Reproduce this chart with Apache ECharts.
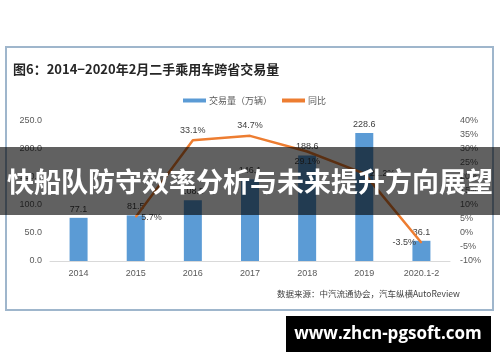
<!DOCTYPE html>
<html><head><meta charset="utf-8">
<script src="https://cdn.jsdelivr.net/npm/echarts@6/dist/echarts.min.js"></script>
<style>html,body{margin:0;padding:0;background:#fff}#c{width:500px;height:362px}</style>
</head><body><div id="c"></div>
<script>
const categories = ['2014','2015','2016','2017','2018','2019','2020.1-2'];
const volume = [77.1, 81.5, 108.5, 146.1, 188.6, 228.6, 36.1];
const yoy = ['-', 5.7, 33.1, 34.7, 29.1, 21.2, -3.5];
const yoyLabelPos = ['right','right','top','top','bottom','right','left'];
const leftTicks = {min:0, max:250, interval:50};
const rightTicks = {min:-10, max:40, interval:5};
const titleText = '图6：2014\u22122020年2月二手乘用车跨省交易量';
const seriesNames = ['交易量（万辆）','同比'];
const sourceText = '数据来源：中汽流通协会，汽车纵横AutoReview';
const bannerText = '快船队防守效率分析与未来提升方向展望';
const siteText = 'www.zhcn-pgsoft.com';

const font = '"Liberation Sans", Arial, "Noto Sans CJK SC", sans-serif';
const chart = echarts.init(document.getElementById('c'));
chart.setOption({
  animation: false,
  textStyle: {fontFamily: font},
  title: {text: titleText, left: 8, top: 58,
    textStyle: {fontSize: 13, fontWeight: 'bold', color: '#262626', fontFamily: '"Noto Sans CJK SC", sans-serif'}},
  legend: {left: 178, top: 91, itemGap: 10, itemWidth: 23, itemHeight: 4,
    textStyle: {fontSize: 9, color: '#595959', padding: [0, 0, 0, -2], fontFamily: '"Noto Sans CJK SC", sans-serif'},
    data: [{name: seriesNames[0], icon: 'rect'}, {name: seriesNames[1], icon: 'rect'}]},
  grid: {left: 50, right: 50, top: 121, bottom: 101},
  xAxis: {type: 'category', data: categories,
    axisLine: {lineStyle: {color: '#d9d9d9'}}, axisTick: {show: false},
    axisLabel: {color: '#595959', fontSize: 9, margin: 8}},
  yAxis: [
    {type: 'value', min: leftTicks.min, max: leftTicks.max, interval: leftTicks.interval,
     splitLine: {show: false}, axisLine: {show: false}, axisTick: {show: false},
     axisLabel: {color: '#595959', fontSize: 9, margin: 8, formatter: v => v.toFixed(1)}},
    {type: 'value', min: rightTicks.min, max: rightTicks.max, interval: rightTicks.interval,
     splitLine: {show: false}, axisLine: {show: false}, axisTick: {show: false},
     axisLabel: {color: '#595959', fontSize: 9, margin: 10, formatter: v => v + '%'}}
  ],
  series: [
    {name: seriesNames[0], type: 'bar', data: volume, barWidth: 18,
     itemStyle: {color: '#5B9BD5'},
     label: {show: true, position: 'top', color: '#404040', fontSize: 9, distance: 4,
       formatter: p => p.value.toFixed(1)}},
    {name: seriesNames[1], type: 'line', yAxisIndex: 1, symbol: 'circle', symbolSize: 1, showSymbol: true,
     data: yoy.map((v, i) => ({value: v, label: {position: yoyLabelPos[i]}})),
     lineStyle: {color: '#ED7D31', width: 2.5}, itemStyle: {color: '#ED7D31'},
     label: {show: true, color: '#404040', fontSize: 9, distance: 5,
       formatter: p => p.value.toFixed(1) + '%'}}
  ],
  graphic: [
    {type: 'rect', shape: {x: 6, y: 47, width: 487, height: 263}, z: -1,
     style: {fill: 'none', stroke: '#9fb6cc', lineWidth: 2}},
    {type: 'text', left: 277, top: 290, z: 10,
     style: {text: sourceText, fontSize: 8.5, fill: '#404040', fontFamily: '"Noto Sans CJK SC", sans-serif'}},
    {type: 'rect', shape: {x: 0, y: 147, width: 500, height: 68}, z: 100,
     style: {fill: 'rgba(0,0,0,0.62)'}},
    {type: 'text', x: 250, y: 182, z: 101,
     style: {text: bannerText, fill: '#fff', fontSize: 27, fontWeight: 'bold',
       align: 'center', verticalAlign: 'middle', fontFamily: '"Noto Sans CJK SC", sans-serif'}},
    {type: 'rect', shape: {x: 286, y: 316, width: 205, height: 36}, z: 100,
     style: {fill: '#000'}},
    {type: 'text', x: 388, y: 334, z: 101,
     style: {text: siteText, fill: '#fff', fontSize: 17, fontWeight: 'bold',
       align: 'center', verticalAlign: 'middle', fontFamily: '"Open Sans", "DejaVu Sans", sans-serif'}}
  ]
});
</script></body></html>
